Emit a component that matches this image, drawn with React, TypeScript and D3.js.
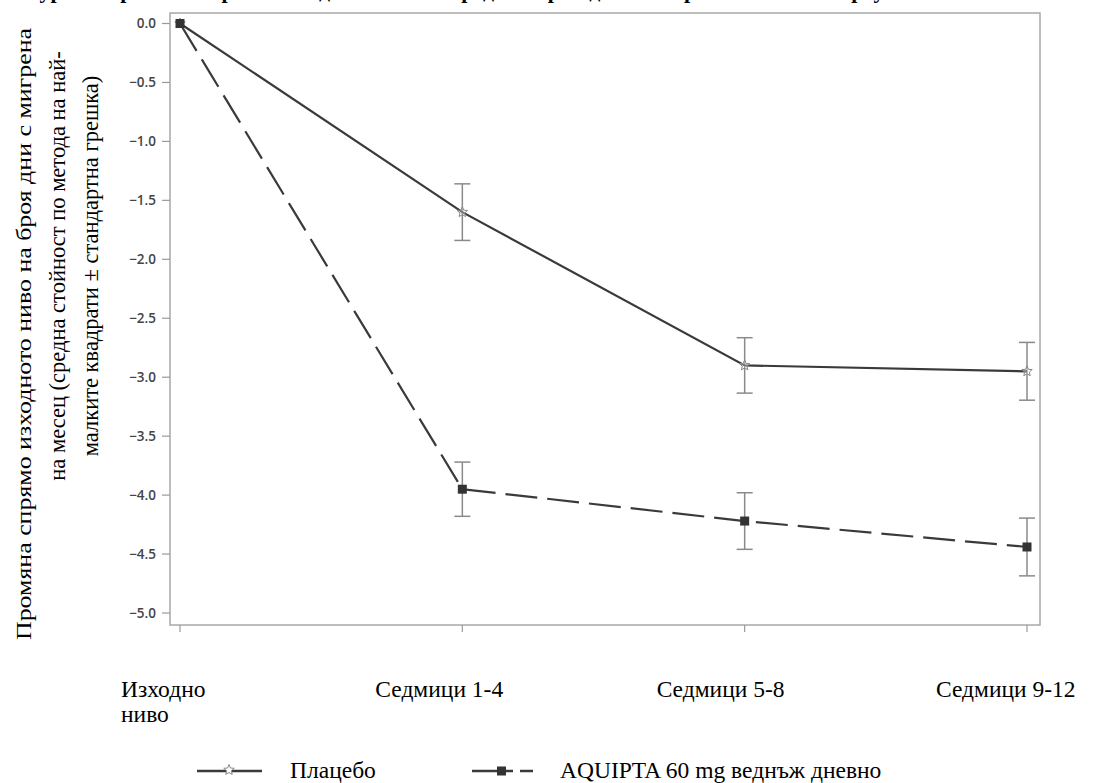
import React from "react";
import * as d3 from "d3";

const categories = ["Изходно ниво", "Седмици 1-4", "Седмици 5-8", "Седмици 9-12"];
const placeboMean = [0, -1.6, -2.9, -2.95];
const placeboSE = [0, 0.24, 0.235, 0.245];
const aquiptaMean = [0, -3.95, -4.22, -4.44];
const aquiptaSE = [0, 0.23, 0.24, 0.245];
const yTicks = [0, -0.5, -1, -1.5, -2, -2.5, -3, -3.5, -4, -4.5, -5];
const yLabelLines = [
  "Промяна спрямо изходното ниво на броя дни с мигрена",
  "на месец (средна стойност по метода на най-",
  "малките квадрати ± стандартна грешка)",
];
const legendLabels = ["Плацебо", "AQUIPTA 60 mg веднъж дневно"];
const titleText = "Фигура 1: Промяна спрямо изходното ниво в средния брой дни с мигрена месечно в проучване 1";

const W = 1094;
const H = 783;

function starPath(cx: number, cy: number, r: number) {
  const pts: string[] = [];
  for (let i = 0; i < 10; i++) {
    const a = -Math.PI / 2 + (i * Math.PI) / 5;
    const rr = i % 2 === 0 ? r : r * 0.45;
    pts.push(`${(cx + rr * Math.cos(a)).toFixed(2)},${(cy + rr * Math.sin(a)).toFixed(2)}`);
  }
  return "M" + pts.join("L") + "Z";
}

export default function App() {
  const frame = { left: 170, right: 1040, top: 13, bottom: 625 };
  const x = d3.scalePoint<string>().domain(categories).range([180, 1027]);
  const y = d3.scaleLinear().domain([0, -5]).range([23.5, 613]);
  const line = d3
    .line<number>()
    .x((_, i) => x(categories[i]) as number)
    .y((d) => y(d));

  const serif = "'Liberation Serif', 'Times New Roman', serif";
  const sans = "'Open Sans', 'Noto Sans', sans-serif";
  const lineColor = "#3a3a3a";
  const errColor = "#8a8a8a";

  const errorBars = (means: number[], ses: number[], key: string) =>
    means.map((m, i) => {
      if (ses[i] === 0) return null;
      const cx = x(categories[i]) as number;
      const y1 = y(m + ses[i]);
      const y2 = y(m - ses[i]);
      return (
        <g key={key + i} stroke={errColor} strokeWidth={1.5}>
          <line x1={cx} x2={cx} y1={y1} y2={y2} />
          <line x1={cx - 8} x2={cx + 8} y1={y1} y2={y1} />
          <line x1={cx - 8} x2={cx + 8} y1={y2} y2={y2} />
        </g>
      );
    });

  const xLabelOffsets = [-59, -87, -88, -91];

  return (
    <svg
      width={W}
      height={H}
      style={{ position: "absolute", left: 0, top: 0, background: "#fff" }}
      xmlns="http://www.w3.org/2000/svg"
    >
      <rect x={0} y={0} width={W} height={H} fill="#fff" />
      {/* title, clipped by the top edge as in the source */}
      <text x={-2} y={-2} fontFamily={serif} fontWeight="bold" fontSize={22} fill="#000">
        {titleText}
      </text>

      {/* frame */}
      <rect
        x={frame.left}
        y={frame.top}
        width={frame.right - frame.left}
        height={frame.bottom - frame.top}
        fill="none"
        stroke="#a8a8a8"
        strokeWidth={1.5}
      />

      {/* y ticks */}
      {yTicks.map((t) => (
        <g key={t}>
          <line x1={162} x2={frame.left} y1={y(t)} y2={y(t)} stroke="#9a9a9a" strokeWidth={1.2} />
          <text
            x={156}
            y={y(t)}
            dy="0.36em"
            textAnchor="end"
            fontFamily={sans}
            fontSize={13.5}
            fontWeight={600}
            fill="#444"
          >
            {d3.format(".1f")(t)}
          </text>
        </g>
      ))}

      {/* x ticks */}
      {categories.map((c) => (
        <line
          key={c}
          x1={x(c) as number}
          x2={x(c) as number}
          y1={frame.bottom}
          y2={frame.bottom + 7}
          stroke="#9a9a9a"
          strokeWidth={1.2}
        />
      ))}

      {/* x labels */}
      {categories.map((c, i) => {
        const words = i === 0 ? c.split(" ") : [c];
        const lx = (x(c) as number) + xLabelOffsets[i];
        return (
          <text key={c} x={lx} y={697} fontFamily={serif} fontSize={23.5} fill="#000">
            {words.map((w, j) => (
              <tspan key={j} x={lx} dy={j === 0 ? 0 : 25}>
                {w}
              </tspan>
            ))}
          </text>
        );
      })}

      {/* y axis title */}
      <text
        transform={`translate(31,640) rotate(-90)`}
        textAnchor="start"
        fontFamily={serif}
        fontSize={22}
        textLength={612}
        lengthAdjust="spacingAndGlyphs"
        fill="#000"
      >
        {yLabelLines[0]}
      </text>
      {[1, 2].map((i) => (
        <text
          key={i}
          transform={`translate(${i === 1 ? 65 : 98},266) rotate(-90)`}
          textAnchor="middle"
          fontFamily={serif}
          fontSize={22.5}
          fill="#000"
        >
          {yLabelLines[i]}
        </text>
      ))}

      {/* error bars */}
      {errorBars(placeboMean, placeboSE, "p")}
      {errorBars(aquiptaMean, aquiptaSE, "a")}

      {/* lines */}
      <path d={line(placeboMean) || ""} fill="none" stroke={lineColor} strokeWidth={2.2} />
      <path
        d={line(aquiptaMean) || ""}
        fill="none"
        stroke={lineColor}
        strokeWidth={2.2}
        strokeDasharray="32 10"
      />

      {/* markers */}
      {placeboMean.map((m, i) => (
        <path
          key={"ps" + i}
          d={starPath(x(categories[i]) as number, y(m), 5.5)}
          fill="#fff"
          fillOpacity={0.3}
          stroke="#888"
          strokeWidth={1}
        />
      ))}
      {aquiptaMean.map((m, i) => (
        <rect
          key={"as" + i}
          x={(x(categories[i]) as number) - 4.5}
          y={y(m) - 4.5}
          width={9}
          height={9}
          fill="#333"
        />
      ))}

      {/* legend */}
      <g>
        <line x1={197} x2={262} y1={771} y2={771} stroke={lineColor} strokeWidth={2.5} />
        <path d={starPath(229, 770, 5.5)} fill="#fff" stroke="#888" strokeWidth={1} />
        <text x={290} y={778} fontFamily={serif} fontSize={23.5} fill="#000">
          {legendLabels[0]}
        </text>
        <line x1={472} x2={513} y1={771} y2={771} stroke={lineColor} strokeWidth={2.5} />
        <rect x={497} y={766.5} width={9} height={9} fill="#333" />
        <line x1={520} x2={533} y1={771} y2={771} stroke={lineColor} strokeWidth={2.5} />
        <text x={560} y={778} fontFamily={serif} fontSize={23.5} fill="#000">
          {legendLabels[1]}
        </text>
      </g>
    </svg>
  );
}
